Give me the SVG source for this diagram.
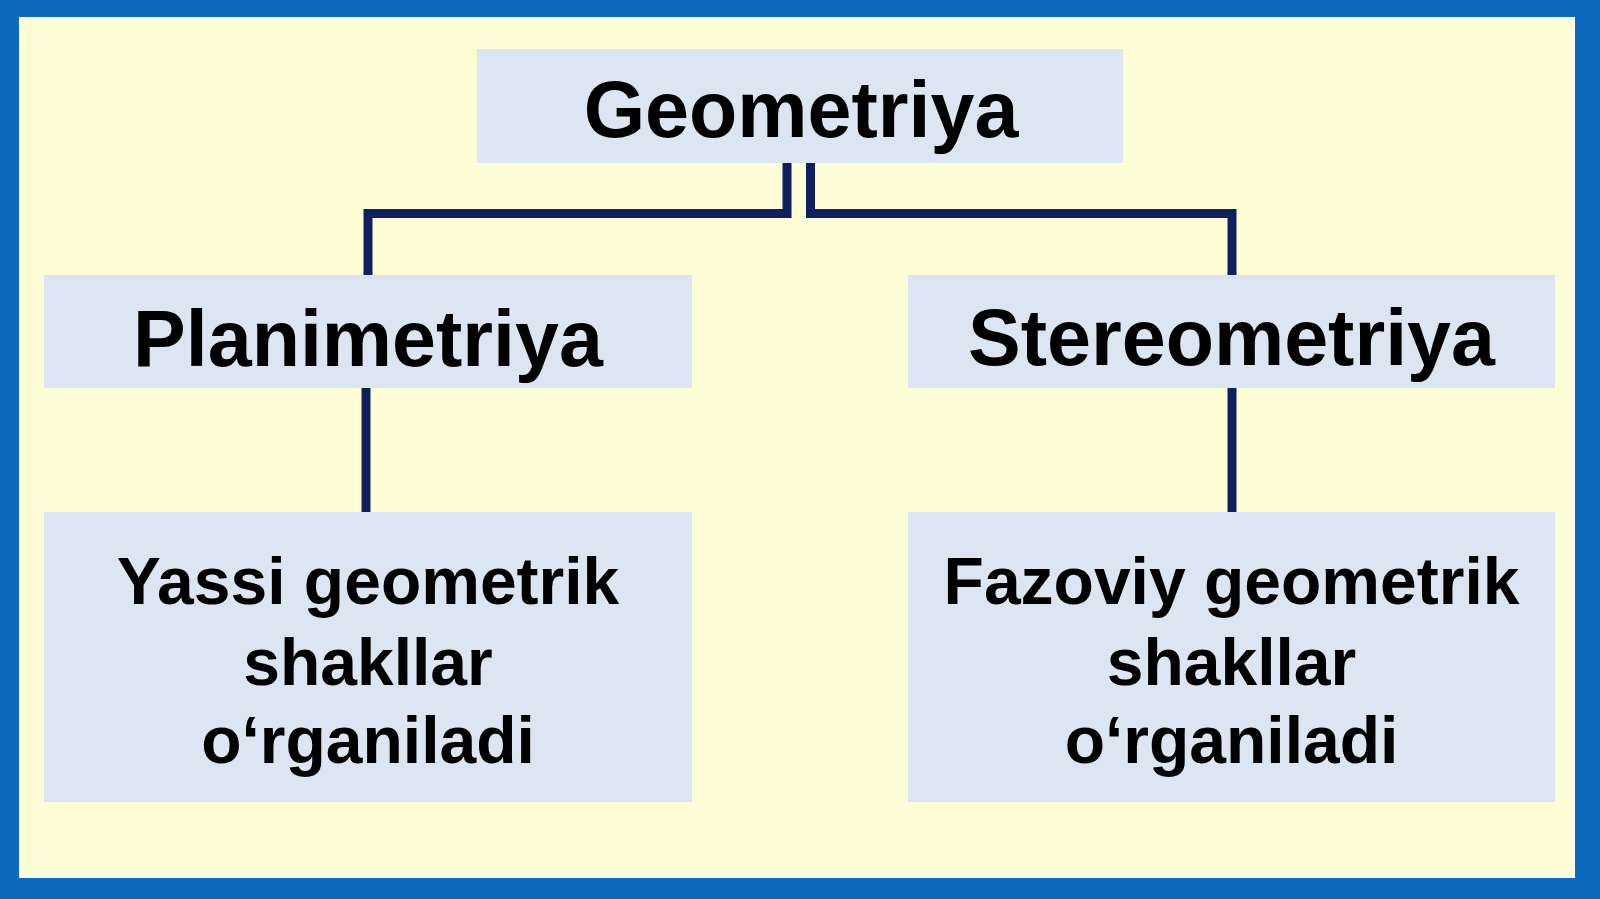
<svg xmlns="http://www.w3.org/2000/svg" width="1600" height="899" viewBox="0 0 1600 899">
<style>
.box{fill:#DCE6F2;}
.t{font-family:"Liberation Sans",Arial,sans-serif;font-weight:bold;fill:#000;text-anchor:middle;}
.big{font-size:79px;}
.small{font-size:66px;}
.con{fill:none;stroke:#111F60;stroke-width:9;stroke-linecap:square;stroke-linejoin:miter;}
</style>
<rect x="0" y="0" width="1600" height="899" fill="#0B6BBE"/>
<rect x="20" y="18" width="1554" height="859" fill="#FEFED6" stroke="#FFFFFF" stroke-width="2"/>
<g id="connectors">
<polyline class="con" points="787,167 787,213.5 368,213.5 368,272"/>
<polyline class="con" points="810.5,167 810.5,213.5 1232,213.5 1232,272"/>
<line class="con" x1="366" y1="392" x2="366" y2="508"/>
<line class="con" x1="1232" y1="392" x2="1232" y2="508"/>
</g>
<g id="geometriya">
<rect class="box" x="477" y="49" width="646" height="114"/>
<text class="t big" x="801" y="137">Geometriya</text>
</g>
<g id="planimetriya">
<rect class="box" x="44" y="275" width="648" height="113"/>
<text class="t big" x="368" y="366">Planimetriya</text>
</g>
<g id="stereometriya">
<rect class="box" x="908" y="275" width="647" height="113"/>
<text class="t big" x="1231.5" y="365">Stereometriya</text>
</g>
<g id="yassi">
<rect class="box" x="44" y="512" width="648" height="290"/>
<text class="t small" x="368" y="604">Yassi geometrik</text>
<text class="t small" x="368" y="685">shakllar</text>
<text class="t small" x="368" y="763">o‘rganiladi</text>
</g>
<g id="fazoviy">
<rect class="box" x="908" y="512" width="647" height="290"/>
<text class="t small" x="1231.5" y="604">Fazoviy geometrik</text>
<text class="t small" x="1231.5" y="685">shakllar</text>
<text class="t small" x="1231.5" y="763">o‘rganiladi</text>
</g>
</svg>
